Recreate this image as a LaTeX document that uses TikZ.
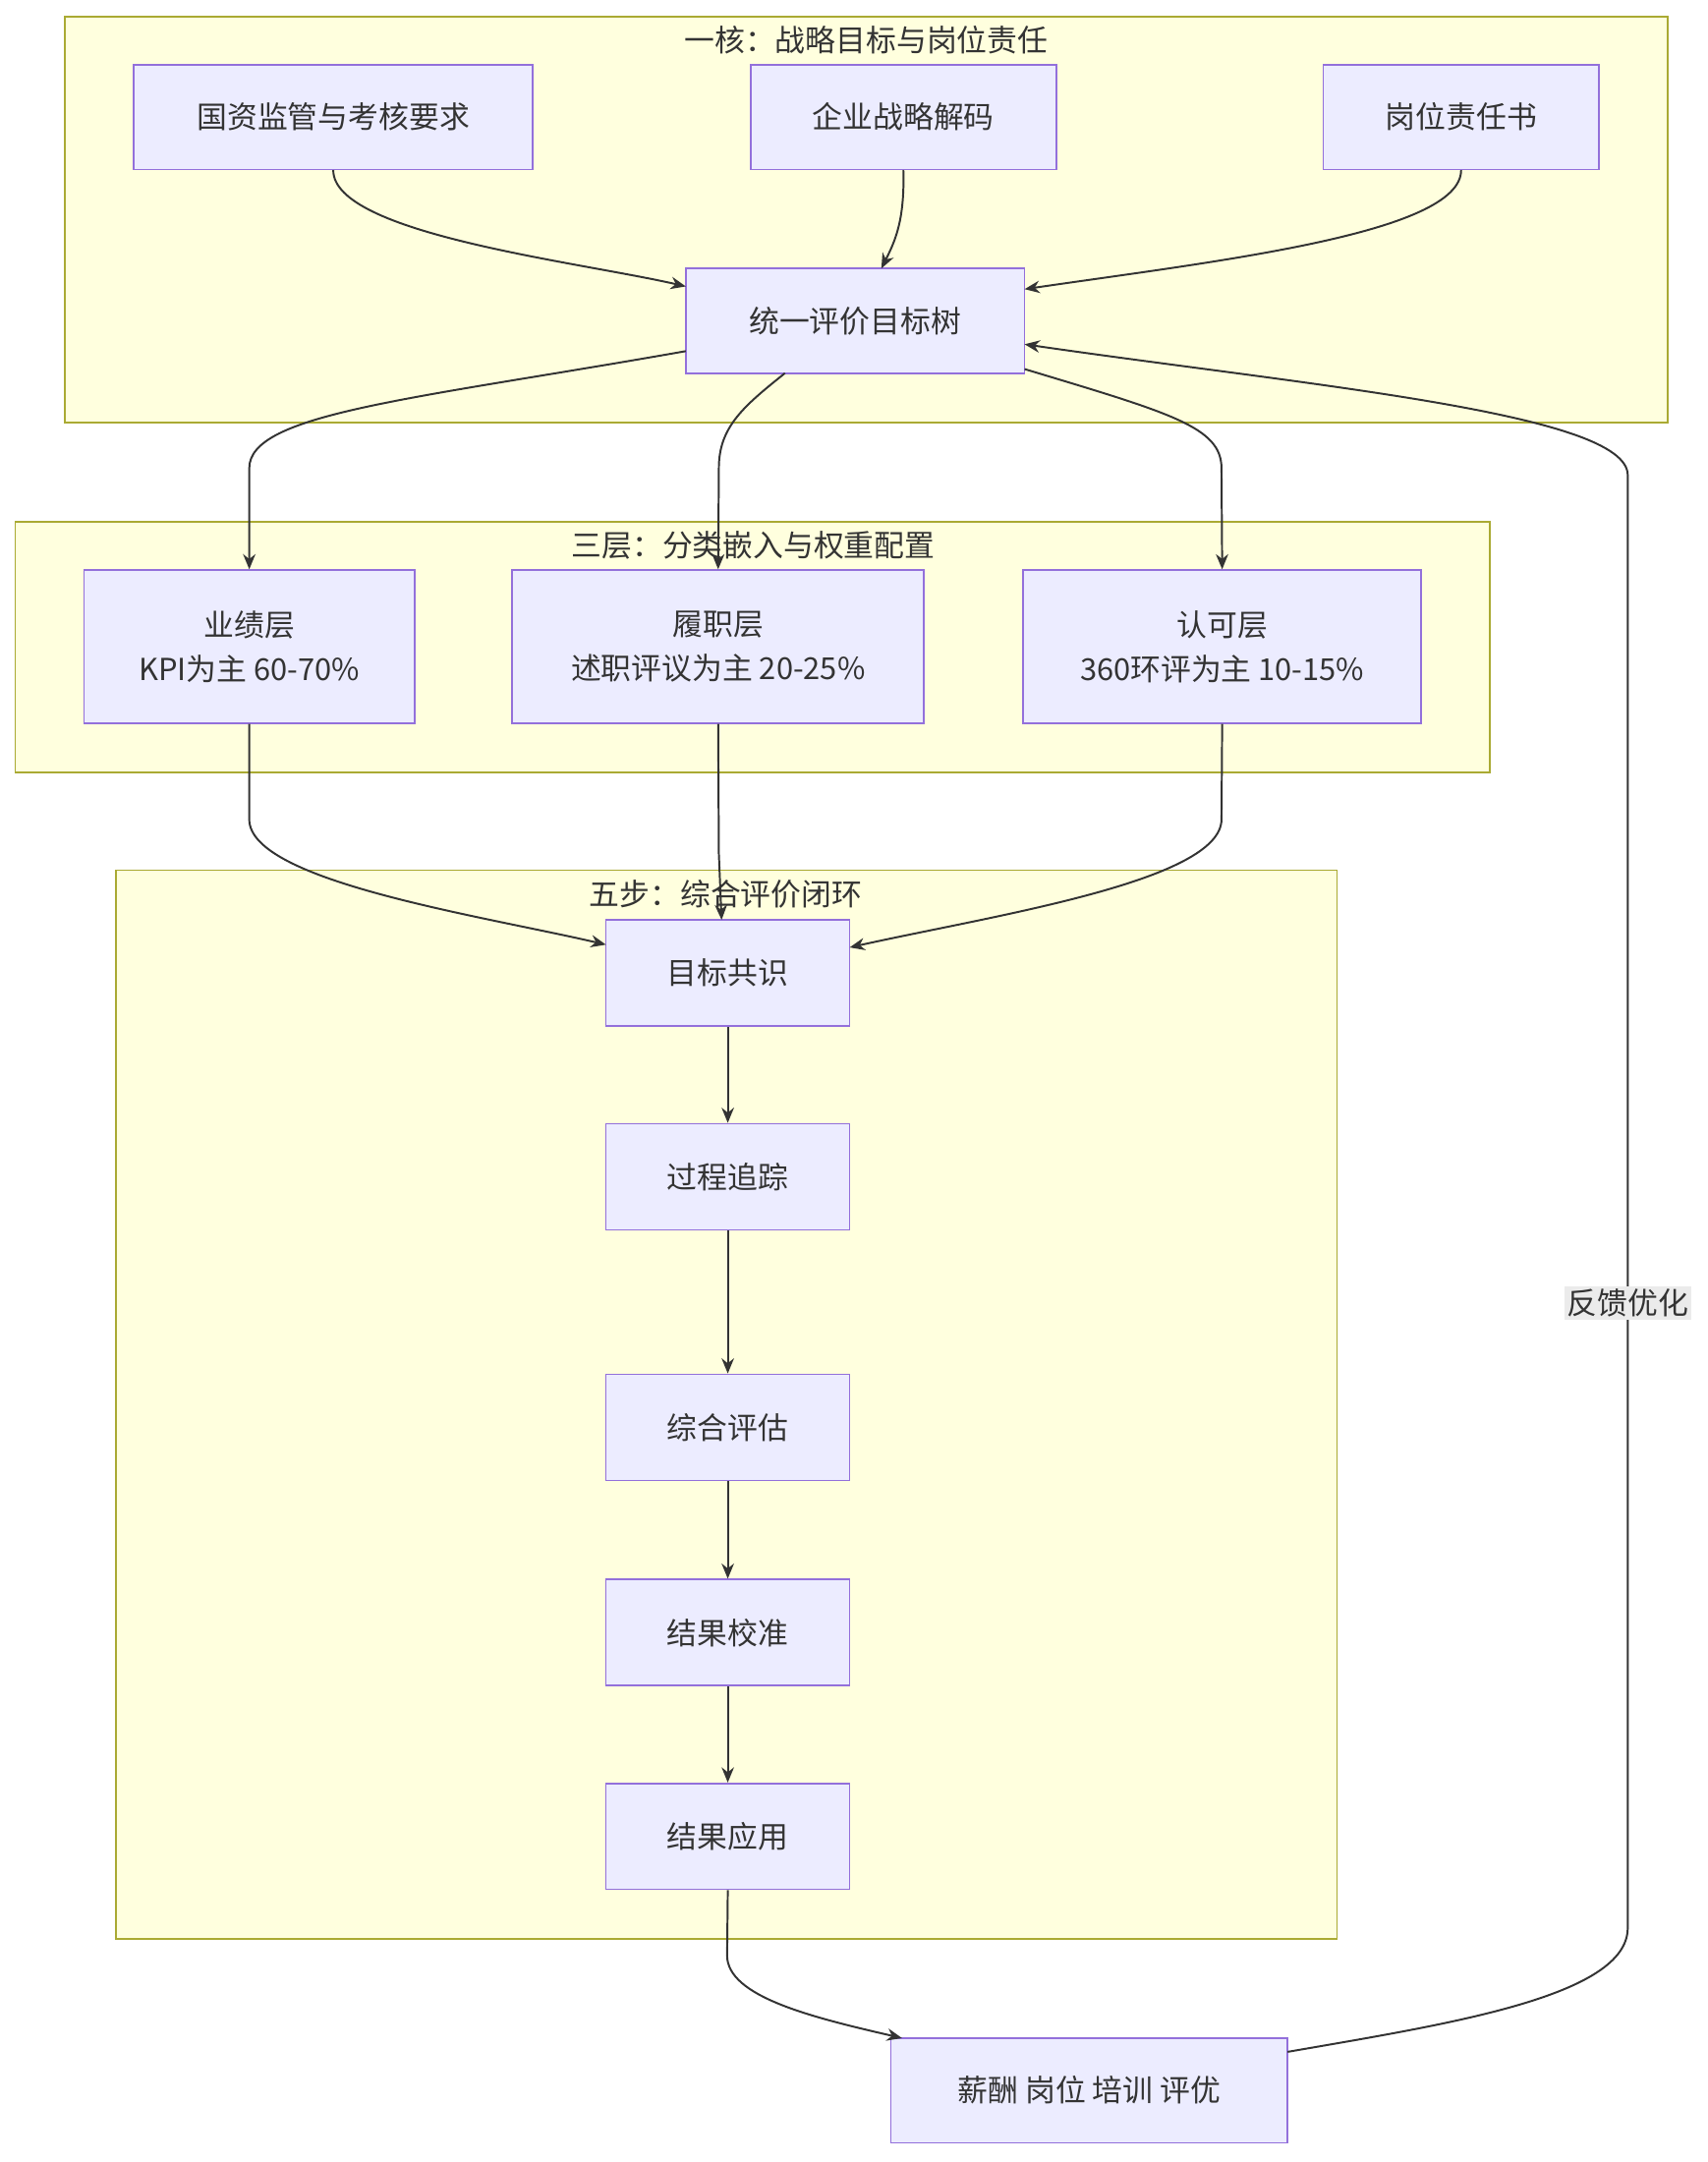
\documentclass[tikz,border=0pt]{standalone}
\usepackage{fontspec}
\setmainfont{Noto Sans CJK SC}
\usetikzlibrary{arrows.meta}
\definecolor{cf}{HTML}{FFFFDE}\definecolor{cs}{HTML}{AAAA33}
\definecolor{nf}{HTML}{ECECFF}\definecolor{ns}{HTML}{9370DB}
\definecolor{tx}{HTML}{333333}
\begin{document}
\begin{tikzpicture}[x=1pt,y=-1pt,
 clu/.style={draw=cs,fill=cf,line width=1.2pt},
 ttl/.style={text=tx,font=\fontsize{22}{26}\selectfont},
 box/.style={draw=ns,fill=nf,line width=1.2pt,text=tx,align=center,font=\fontsize{22}{32}\selectfont,inner sep=0pt},
 ed/.style={draw=tx,line width=1.4pt,-{Stealth[length=11pt,width=9pt]}}]
\useasboundingbox[fill=white] (0,0) rectangle (1240,1570);
\draw[clu] (47,12) rectangle (1211,307);
\draw[clu] (11,379) rectangle (1082,561);
\draw[clu] (84,632) rectangle (971,1408);
\node[ttl] (t1) at (629,29) {一核：战略目标与岗位责任};
\node[ttl] (t2) at (547,396) {三层：分类嵌入与权重配置};
\node[ttl] (t3) at (527,649) {五步：综合评价闭环};
\newcommand{\bx}[6]{\node[box,minimum width=#4-#2,minimum height=#5-#3] (#1) at ({(#2+#4)/2},{(#3+#5)/2}) {#6};}
\bx{gz}{97}{47}{387}{123}{国资监管与考核要求}
\bx{qy}{545}{47}{767}{123}{企业战略解码}
\bx{gw}{961}{47}{1161}{123}{岗位责任书}
\bx{ty}{498}{195}{744}{271}{统一评价目标树}
\bx{yj}{61}{414}{301}{525}{业绩层\\KPI为主 60-70\%}
\bx{lz}{372}{414}{671}{525}{履职层\\述职评议为主 20-25\%}
\bx{rk}{743}{414}{1032}{525}{认可层\\360环评为主 10-15\%}
\bx{s1}{440}{668}{617}{745}{目标共识}
\bx{s2}{440}{816}{617}{893}{过程追踪}
\bx{s3}{440}{998}{617}{1075}{综合评估}
\bx{s4}{440}{1147}{617}{1224}{结果校准}
\bx{s5}{440}{1295}{617}{1372}{结果应用}
\bx{xc}{647}{1480}{935}{1556}{薪酬 岗位 培训 评优}
\coordinate (tyA) at (498,208);
\coordinate (tyB) at (744,210);
\coordinate (tyC) at (744,250);
\path[ed] (gz.south) .. controls (242,170) and (420,190) .. (tyA);
\path[ed] (qy.south) .. controls (657,160) and (650,175) .. (640,195);
\path[ed] (gw.south) .. controls (1061,170) and (880,190) .. (tyB);
\path[ed] (498,255) .. controls (300,290) and (181,300) .. (181,340) -- (yj.north);
\path[ed] (570,271) .. controls (540,295) and (522,310) .. (522,340) -- (lz.north);
\path[ed] (744,268) .. controls (850,300) and (887,310) .. (887,340) -- (rk.north);
\path[ed] (yj.south) -- (181,595) .. controls (181,640) and (350,665) .. (440,686);
\path[ed] (lz.south) -- (522,620) -- (524,668);
\path[ed] (rk.south) -- (887,595) .. controls (887,640) and (720,665) .. (617,688);
\path[ed] (s1) -- (s2);
\path[ed] (s2) -- (s3);
\path[ed] (s3) -- (s4);
\path[ed] (s4) -- (s5);
\path[ed] (s5.south) -- (528,1420) .. controls (528,1450) and (590,1465) .. (655,1480);
\path[ed] (935,1490) .. controls (1050,1470) and (1182,1450) .. (1182,1400) -- (1182,345) .. controls (1182,300) and (950,280) .. (tyC);
\node[fill=black!8,text=tx,font=\fontsize{22}{26}\selectfont,inner sep=2pt] (fb) at (1182,946) {反馈优化};
\end{tikzpicture}
\end{document}
